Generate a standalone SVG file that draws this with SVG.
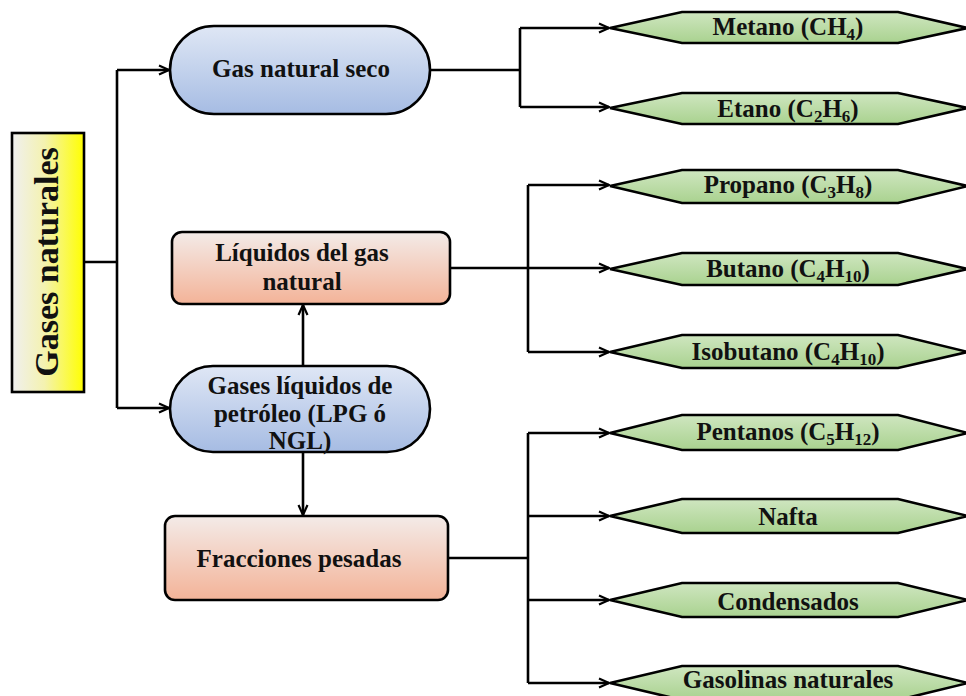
<svg xmlns="http://www.w3.org/2000/svg" width="966" height="696" viewBox="0 0 966 696">
<defs>
<linearGradient id="gY" x1="0" y1="0" x2="1" y2="0"><stop offset="0" stop-color="#f0f0f0"/><stop offset="0.45" stop-color="#f4f2b0"/><stop offset="1" stop-color="#ffff00"/></linearGradient>
<linearGradient id="gB" x1="0" y1="0" x2="0" y2="1"><stop offset="0" stop-color="#dfe7f5"/><stop offset="1" stop-color="#a6bce3"/></linearGradient>
<linearGradient id="gS" x1="0" y1="0" x2="0" y2="1"><stop offset="0" stop-color="#f3ebe8"/><stop offset="1" stop-color="#f3b398"/></linearGradient>
<linearGradient id="gG" x1="0" y1="0" x2="0" y2="1"><stop offset="0" stop-color="#cfe6c0"/><stop offset="1" stop-color="#a9d28f"/></linearGradient>
<marker id="arr" markerWidth="12" markerHeight="12" viewBox="0 0 12 12" refX="11" refY="6" orient="auto" markerUnits="userSpaceOnUse">
<path d="M1,1.5 L11,6 L1,10.5" fill="none" stroke="#000" stroke-width="2.2"/>
</marker>
</defs>
<style>
.t{font-family:"Liberation Serif","Times New Roman",serif;font-weight:bold;fill:#111;text-anchor:middle;font-size:25px}
.sub{font-size:17px}
.box{stroke:#000;stroke-width:2.6}
.hex{fill:url(#gG);stroke:#000;stroke-width:2.6}
.c{fill:none;stroke:#000;stroke-width:2.6}
</style>
<rect width="966" height="696" fill="#fff"/>

<g id="connectors">
<path class="c" d="M84,262 H117"/>
<path class="c" d="M117,70 V408"/>
<path class="c" d="M117,70 H169" marker-end="url(#arr)"/>
<path class="c" d="M117,408 H169" marker-end="url(#arr)"/>
<path class="c" d="M430,70 H520"/>
<path class="c" d="M520,28 V107"/>
<path class="c" d="M520,28 H609" marker-end="url(#arr)"/>
<path class="c" d="M520,107 H609" marker-end="url(#arr)"/>
<path class="c" d="M450,268 H609" marker-end="url(#arr)"/>
<path class="c" d="M528,185 V352"/>
<path class="c" d="M528,185 H609" marker-end="url(#arr)"/>
<path class="c" d="M528,352 H609" marker-end="url(#arr)"/>
<path class="c" d="M303,366 V305" marker-end="url(#arr)"/>
<path class="c" d="M303,452 V515" marker-end="url(#arr)"/>
<path class="c" d="M448,558 H528"/>
<path class="c" d="M528,433 V683"/>
<path class="c" d="M528,433 H609" marker-end="url(#arr)"/>
<path class="c" d="M528,516 H609" marker-end="url(#arr)"/>
<path class="c" d="M528,600 H609" marker-end="url(#arr)"/>
<path class="c" d="M528,683 H609" marker-end="url(#arr)"/>
</g>

<g id="gases-naturales">
<rect class="box" x="12" y="133" width="72" height="259" fill="url(#gY)"/>
<text class="t" x="0" y="0" style="font-size:34px" transform="translate(58,262) rotate(-90)">Gases naturales</text>
</g>

<g id="gas-natural-seco">
<rect class="box" x="170" y="26" width="260" height="88" rx="44" fill="url(#gB)"/>
<text class="t" x="301" y="77">Gas natural seco</text>
</g>

<g id="liquidos-gas-natural">
<rect class="box" x="172" y="232" width="278" height="72" rx="10" fill="url(#gS)"/>
<text class="t" x="302" y="261">Líquidos del gas</text>
<text class="t" x="302" y="290">natural</text>
</g>

<g id="gases-liquidos-petroleo">
<rect class="box" x="170" y="366" width="260" height="86" rx="43" fill="url(#gB)"/>
<text class="t" x="300" y="394">Gases líquidos de</text>
<text class="t" x="300" y="422">petróleo (LPG ó</text>
<text class="t" x="300" y="449">NGL)</text>
</g>

<g id="fracciones-pesadas">
<rect class="box" x="165" y="516" width="283" height="84" rx="10" fill="url(#gS)"/>
<text class="t" x="299" y="567">Fracciones pesadas</text>
</g>

<g id="metano">
<polygon class="hex" points="610,28 682,12 898,12 968,28 898,43 682,43"/>
<text class="t" x="788" y="35">Metano (CH<tspan class="sub" dy="5">4</tspan><tspan dy="-5">)</tspan></text>
</g>
<g id="etano">
<polygon class="hex" points="610,108 682,93 898,93 968,108 898,124 682,124"/>
<text class="t" x="788" y="117">Etano (C<tspan class="sub" dy="5">2</tspan><tspan dy="-5">H</tspan><tspan class="sub" dy="5">6</tspan><tspan dy="-5">)</tspan></text>
</g>
<g id="propano">
<polygon class="hex" points="610,186 682,170 898,170 968,186 898,203 682,203"/>
<text class="t" x="788" y="193">Propano (C<tspan class="sub" dy="5">3</tspan><tspan dy="-5">H</tspan><tspan class="sub" dy="5">8</tspan><tspan dy="-5">)</tspan></text>
</g>
<g id="butano">
<polygon class="hex" points="610,269 682,253 898,253 968,269 898,285 682,285"/>
<text class="t" x="788" y="277">Butano (C<tspan class="sub" dy="5">4</tspan><tspan dy="-5">H</tspan><tspan class="sub" dy="5">10</tspan><tspan dy="-5">)</tspan></text>
</g>
<g id="isobutano">
<polygon class="hex" points="610,352 682,335 898,335 968,352 898,368 682,368"/>
<text class="t" x="788" y="360">Isobutano (C<tspan class="sub" dy="5">4</tspan><tspan dy="-5">H</tspan><tspan class="sub" dy="5">10</tspan><tspan dy="-5">)</tspan></text>
</g>
<g id="pentanos">
<polygon class="hex" points="610,433 682,415 898,415 968,433 898,450 682,450"/>
<text class="t" x="788" y="440">Pentanos (C<tspan class="sub" dy="5">5</tspan><tspan dy="-5">H</tspan><tspan class="sub" dy="5">12</tspan><tspan dy="-5">)</tspan></text>
</g>
<g id="nafta">
<polygon class="hex" points="610,516 682,499 898,499 968,516 898,533 682,533"/>
<text class="t" x="788" y="525">Nafta</text>
</g>
<g id="condensados">
<polygon class="hex" points="610,600 682,583 898,583 968,600 898,617 682,617"/>
<text class="t" x="788" y="610">Condensados</text>
</g>
<g id="gasolinas-naturales">
<polygon class="hex" points="610,683 682,666 898,666 968,683 898,700 682,700"/>
<text class="t" x="788" y="688">Gasolinas naturales</text>
</g>
</svg>
